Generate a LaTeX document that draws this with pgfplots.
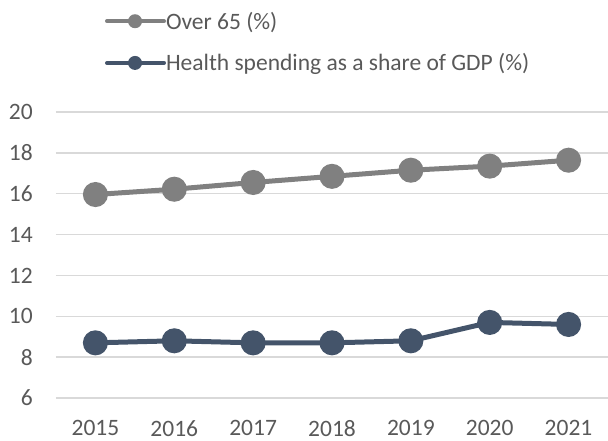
\documentclass[border=0pt]{standalone}
\usepackage{pgfplots}
\pgfplotsset{compat=1.18}
\usepackage{fontspec}
\setmainfont{Carlito}
\definecolor{sergrey}{HTML}{808080}
\definecolor{sernavy}{HTML}{44546A}
\definecolor{gridc}{HTML}{D9D9D9}
\definecolor{txt}{HTML}{595959}
\begin{document}
\begin{tikzpicture}
\begin{axis}[
  at={(0pt,0pt)}, anchor=south west,
  scale only axis,
  width=552pt, height=286pt,
  xmin=-0.5, xmax=6.5,
  ymin=6, ymax=20,
  ytick={6,8,...,20},
  xtick=data,
  xticklabels={2015,2016,2017,2018,2019,2020,2021},
  major tick length=0pt,
  axis line style={draw=none},
  ymajorgrids,
  grid style={gridc, line width=1.3pt},
  /pgf/number format/assume math mode=true,
  tick label style={font=\fontsize{23.5}{28}\selectfont, text=txt},
  yticklabel style={inner sep=0pt, xshift=-23pt},
  xticklabel style={inner sep=0pt, yshift=-22pt},
  clip=false,
  legend cell align=left,
  legend style={draw=none, fill=none, inner sep=0pt, outer sep=0pt,
    anchor=north west, at={(axis description cs:0.0888,1.35)},
    font=\fontsize{23.5}{28}\selectfont, text=txt,
    row sep=23pt,
    nodes={inner sep=0pt},
    /tikz/every even column/.style={column sep=3pt}},
  legend image code/.code={
    \draw[#1, line width=4pt, mark=none, line cap=round] (0pt,0pt) -- (57pt,0pt);
    \fill[#1, draw=none] (28pt,0pt) circle[radius=7pt];
  },
]
\addplot[sergrey, line width=5pt, mark=*, mark size=10pt, mark options={solid, fill=sergrey, draw=none}]
  coordinates {(0,15.96) (1,16.22) (2,16.55) (3,16.85) (4,17.15) (5,17.35) (6,17.64)};
\addlegendentry{Over 65 (\%)}
\addplot[sernavy, line width=5pt, mark=*, mark size=10pt, mark options={solid, fill=sernavy, draw=none}]
  coordinates {(0,8.7) (1,8.8) (2,8.7) (3,8.7) (4,8.8) (5,9.7) (6,9.6)};
\addlegendentry{Health spending as a share of GDP (\%)}
\end{axis}
\pgfresetboundingbox
\useasboundingbox (-56pt,-43pt) rectangle (552pt,398pt);
\end{tikzpicture}
\end{document}
